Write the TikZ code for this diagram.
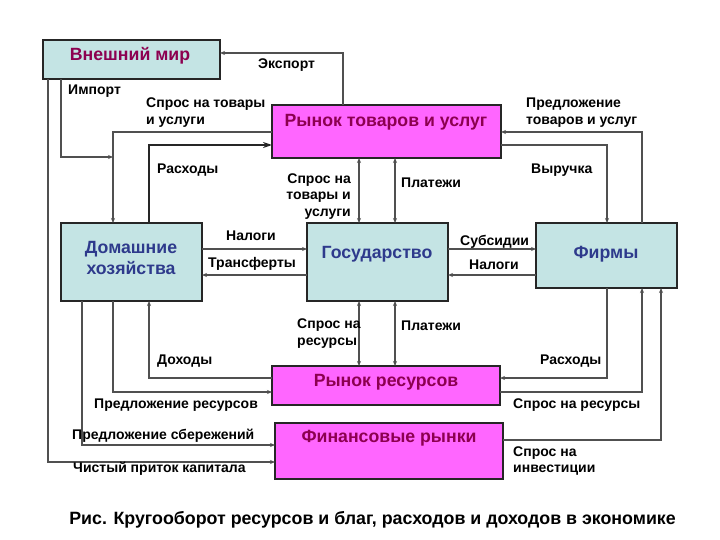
\documentclass[tikz,border=0pt]{standalone}
\usepackage{fontspec}
\setmainfont{Liberation Sans}
\usetikzlibrary{arrows.meta}
\definecolor{boxcyan}{HTML}{C4E4E4}
\definecolor{boxmag}{HTML}{FF66FF}
\definecolor{txtmag}{HTML}{8C0050}
\definecolor{txtblue}{HTML}{2E3A8C}
\definecolor{linegray}{HTML}{505050}
\tikzset{
  box/.style={draw=black!85, line width=1.5pt, anchor=north west, inner sep=0pt, outer sep=0pt},
  cyanbox/.style={box, fill=boxcyan},
  magbox/.style={box, fill=boxmag},
  ttlmag/.style={font=\fontsize{17.7}{20}\selectfont\bfseries, text=txtmag, inner sep=0pt},
  ttlblue/.style={font=\fontsize{17.7}{21}\selectfont\bfseries, text=txtblue, inner sep=0pt, align=center},
  lbl/.style={font=\fontsize{14}{16.8}\selectfont\bfseries, inner sep=0pt, anchor=west, align=left},
  conn/.style={draw=linegray, line width=1.1pt, -{Stealth[length=5pt,width=4pt]}},
  connbig/.style={draw=black!85, line width=1.6pt, -{Stealth[length=9pt,width=6pt]}},
  dconn/.style={draw=linegray, line width=1.1pt, {Stealth[length=5pt,width=4pt]}-{Stealth[length=5pt,width=4pt]}},
}
\begin{document}
\begin{tikzpicture}[x=1pt,y=-1pt]
\useasboundingbox (0,0) rectangle (720,540);
% boxes
\node[cyanbox, minimum width=177, minimum height=39] (wm) at (43,40) {};
\node[magbox, minimum width=229, minimum height=53] (rt) at (272,105) {};
\node[cyanbox, minimum width=141, minimum height=78] (hh) at (61,223) {};
\node[cyanbox, minimum width=141, minimum height=78] (gv) at (307,223) {};
\node[cyanbox, minimum width=141, minimum height=65] (fi) at (536,223) {};
\node[magbox, minimum width=228, minimum height=39] (rr) at (272,366) {};
\node[magbox, minimum width=228, minimum height=56] (fm) at (275,423) {};
% titles
\node[ttlmag] (wmt) at (130,56) {Внешний мир};
\node[ttlmag] (rtt) at (386,122) {Рынок товаров и услуг};
\node[ttlblue] (hht) at (131,258) {Домашние\\хозяйства};
\node[ttlblue] (gvt) at (377,254) {Государство};
\node[ttlblue] (fit) at (606,254) {Фирмы};
\node[ttlmag] (rrt) at (386,382) {Рынок ресурсов};
\node[ttlmag] (fmt) at (389,438) {Финансовые рынки};
% connectors
\coordinate (imp) at (113,157);
\draw[conn] (rt.north -| 343,0) |- (wm.east |- 0,53);
\draw[conn] (wm.south -| 61,0) |- (imp);
\draw[conn] (rt.west |- 0,132) -| (hh.north -| 113,0);
\draw[connbig] (hh.north -| 149,0) |- (rt.west |- 0,145);
\draw[conn] (fi.north -| 642,0) |- (rt.east |- 0,132);
\draw[conn] (rt.east |- 0,145) -| (fi.north -| 607,0);
\draw[dconn] (rt.south -| 359,0) -- (gv.north -| 359,0);
\draw[dconn] (rt.south -| 395,0) -- (gv.north -| 395,0);
\draw[conn] (hh.east |- 0,249) -- (gv.west |- 0,249);
\draw[conn] (gv.west |- 0,275) -- (hh.east |- 0,275);
\draw[conn] (gv.east |- 0,249) -- (fi.west |- 0,249);
\draw[conn] (fi.west |- 0,275) -- (gv.east |- 0,275);
\draw[dconn] (gv.south -| 359,0) -- (rr.north -| 359,0);
\draw[dconn] (gv.south -| 395,0) -- (rr.north -| 395,0);
\draw[conn] (rr.west |- 0,378) -| (hh.south -| 149,0);
\draw[conn] (hh.south -| 113,0) |- (rr.west |- 0,392);
\draw[conn] (hh.south -| 82,0) |- (fm.west |- 0,445);
\draw[conn] (wm.south -| 48,0) |- (fm.west |- 0,462);
\draw[conn] (fi.south -| 607,0) |- (rr.east |- 0,378);
\draw[conn] (rr.east |- 0,392) -| (fi.south -| 642,0);
\draw[conn] (fm.east |- 0,440) -| (fi.south -| 661,0);
% labels
\node[lbl] (l1) at (258,65) {Экспорт};
\node[lbl] (l2) at (68,91) {Импорт};
\node[lbl] (l3) at (146,112.5) {Спрос на товары\\и услуги};
\node[lbl] (l4) at (157,170) {Расходы};
\node[lbl] (l5) at (526,113) {Предложение\\товаров и услуг};
\node[lbl] (l6) at (531,170) {Выручка};
\node[lbl, anchor=east, align=right] (l7) at (351,196.5) {Спрос на\\товары и\\услуги};
\node[lbl] (l8) at (401,183) {Платежи};
\node[lbl] (l9) at (226,236) {Налоги};
\node[lbl] (l10) at (208,264) {Трансферты};
\node[lbl] (l11) at (460,242) {Субсидии};
\node[lbl] (l12) at (469,265) {Налоги};
\node[lbl] (l13) at (297,333.5) {Спрос на\\ресурсы};
\node[lbl] (l14) at (401,326) {Платежи};
\node[lbl] (l15) at (157,361) {Доходы};
\node[lbl] (l16) at (540,361) {Расходы};
\node[lbl] (l17) at (94,405) {Предложение ресурсов};
\node[lbl] (l18) at (513,405) {Спрос на ресурсы};
\node[lbl] (l19) at (72,436) {Предложение сбережений};
\node[lbl] (l20) at (73,469) {Чистый приток капитала};
\node[lbl] (l21) at (513,461) {Спрос на\\инвестиции};
\node[font=\fontsize{17.8}{20}\selectfont\bfseries, inner sep=0pt] (cap) at (372.5,520) {Рис. Кругооборот ресурсов и благ, расходов и доходов в экономике};
\end{tikzpicture}
\end{document}
